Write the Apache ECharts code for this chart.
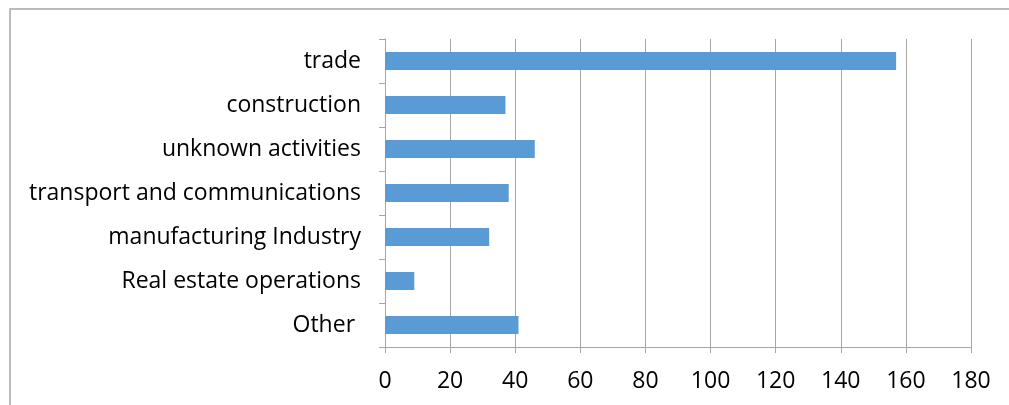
<!DOCTYPE html>
<html>
<head>
<meta charset="utf-8">
<script src="https://cdn.jsdelivr.net/npm/echarts@6/dist/echarts.min.js"></script>
<style>
  html, body { margin: 0; padding: 0; background: #fff; }
  #chart { width: 1009px; height: 405px; }
</style>
</head>
<body>
<div id="chart"></div>
<script>
// data
const categories = ['trade', 'construction', 'unknown activities', 'transport and communications',
  'manufacturing Industry', 'Real estate operations', 'Other '];
const values = [157, 37, 46, 38, 32, 9, 41];
const axisMax = 180;
const axisStep = 20;

const myChart = echarts.init(document.getElementById('chart'));
const option = {
  animation: false,
  textStyle: { fontFamily: 'Open Sans' },
  graphic: [{
    type: 'rect',
    shape: { x: 10, y: 9, width: 1030, height: 430 },
    style: { fill: 'none', stroke: '#a6a6a6', lineWidth: 1.5 },
    silent: true
  }],
  grid: { left: 385, top: 39, right: 38, bottom: 58 },
  xAxis: {
    type: 'value',
    min: 0,
    max: axisMax,
    interval: axisStep,
    axisLine: { show: true, lineStyle: { color: '#a6a6a6' } },
    axisTick: { show: true, length: 6, lineStyle: { color: '#a6a6a6' } },
    splitLine: { show: true, lineStyle: { color: '#a6a6a6' } },
    axisLabel: { color: '#000', fontSize: 23, margin: 23 }
  },
  yAxis: {
    type: 'category',
    data: categories,
    inverse: true,
    axisLine: { show: true, lineStyle: { color: '#a6a6a6' } },
    axisTick: { show: true, length: 6, lineStyle: { color: '#a6a6a6' } },
    axisLabel: { color: '#000', fontSize: 23, margin: 24 }
  },
  series: [{
    type: 'bar',
    data: values,
    barCategoryGap: '59%',
    itemStyle: { color: '#5b9bd5' }
  }]
};
myChart.setOption(option);
</script>
</body>
</html>
